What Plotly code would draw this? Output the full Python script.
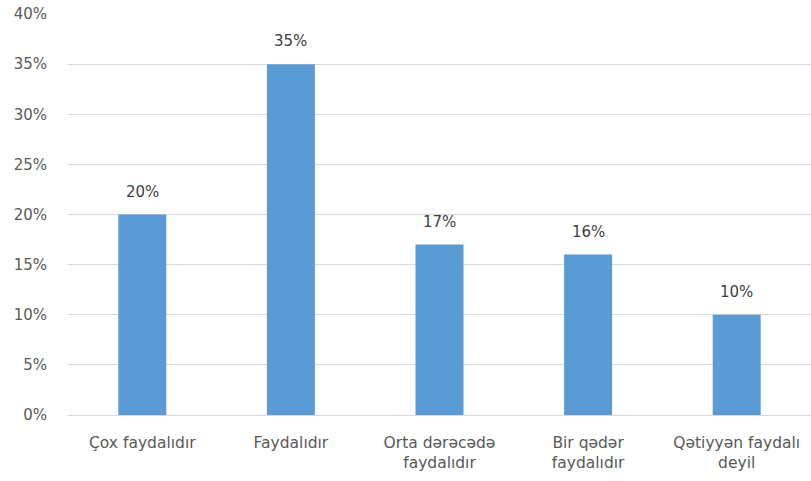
import plotly.graph_objects as go

categories = ["Çox faydalıdır", "Faydalıdır", "Orta dərəcədə<br>faydalıdır",
              "Bir qədər<br>faydalıdır", "Qətiyyən faydalı<br>deyil"]
values = [20, 35, 17, 16, 10]
y_ticks = [0, 5, 10, 15, 20, 25, 30, 35, 40]

font_family = "'DejaVu Sans', sans-serif"
text_color = "#595959"

fig = go.Figure(
    go.Bar(
        x=categories,
        y=values,
        marker=dict(color="#5B9BD5", line=dict(width=0)),
        hoverinfo="skip",
    )
)

for c, v in zip(categories, values):
    fig.add_annotation(
        x=c, y=v, text=f"{v}%", showarrow=False,
        yanchor="bottom", yshift=12,
        font=dict(family=font_family, size=15, color="#404040"),
    )

fig.update_layout(
    width=811, height=481,
    margin=dict(l=68, r=0, t=14, b=66),
    paper_bgcolor="white", plot_bgcolor="white",
    bargap=0.677,
    showlegend=False,
    font=dict(family=font_family, size=15, color=text_color),
)
fig.update_xaxes(
    showgrid=False, showline=False, ticks="",
    tickfont=dict(family=font_family, size=15.5, color=text_color),
    ticklabelstandoff=16,
)
fig.update_yaxes(
    range=[0, 40], tickvals=y_ticks, ticktext=[f"{t}%" for t in y_ticks],
    showgrid=True, gridcolor="#D9D9D9", gridwidth=1,
    zeroline=True, zerolinecolor="#D9D9D9", zerolinewidth=1,
    showline=False, ticks="",
    tickfont=dict(family=font_family, size=15, color=text_color),
    ticklabelstandoff=20,
)

fig.write_html("out.html")
